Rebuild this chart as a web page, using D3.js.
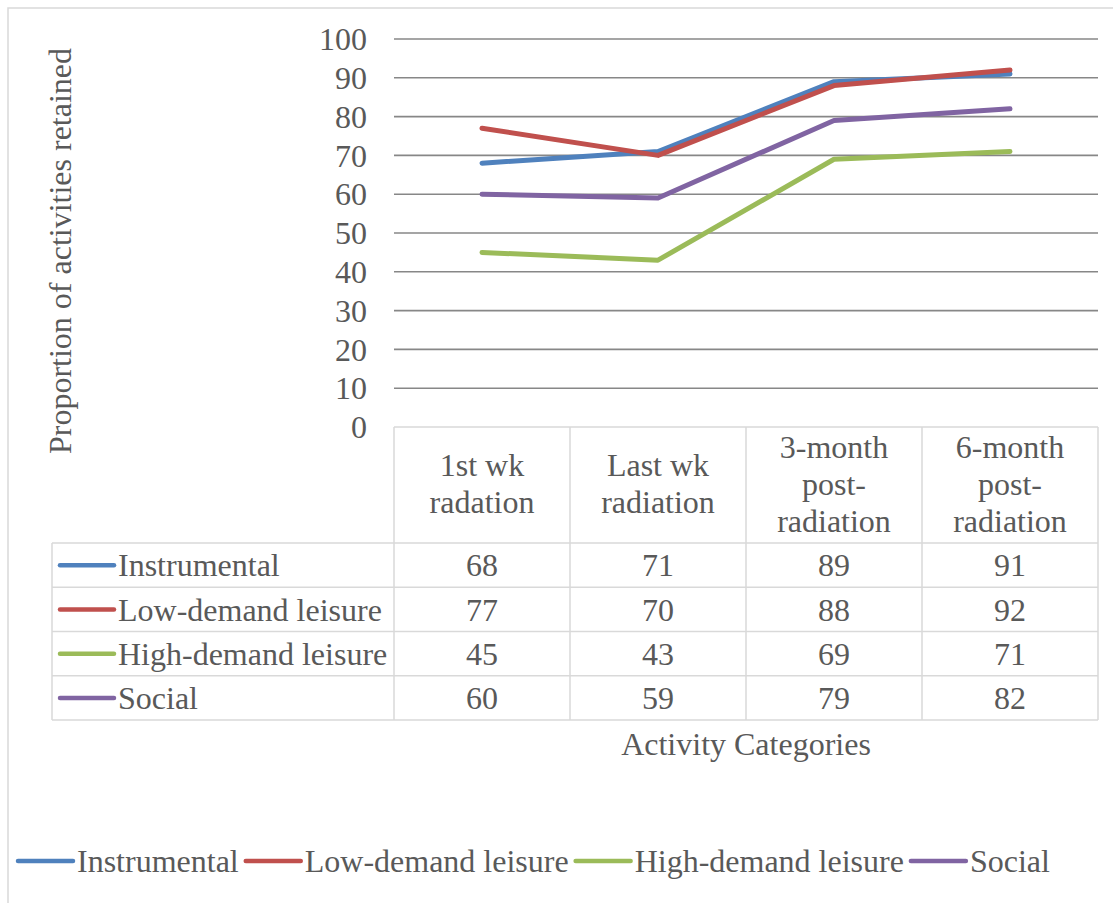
<!DOCTYPE html>
<html>
<head>
<meta charset="utf-8">
<script src="https://cdn.jsdelivr.net/npm/d3@7"></script>
<style>
  body { margin: 0; background: #fff; }
  svg text, svg tspan { font-family: "Liberation Serif", "Times New Roman", Tinos, serif !important; }
</style>
</head>
<body>
<svg id="chart" width="1113" height="903"></svg>
<script>
// chart data
const categories = [
  ["1st wk", "radation"],
  ["Last wk", "radiation"],
  ["3-month", "post-", "radiation"],
  ["6-month", "post-", "radiation"],
];
const seriesNames = ["Instrumental", "Low-demand leisure", "High-demand leisure", "Social"];
const instrumental = [68, 71, 89, 91];
const lowDemand = [77, 70, 88, 92];
const highDemand = [45, 43, 69, 71];
const social = [60, 59, 79, 82];
const yTicks = [0, 10, 20, 30, 40, 50, 60, 70, 80, 90, 100];
const colors = ["#4F81BD", "#C0504D", "#9BBB59", "#8064A2"];

const seriesValues = [instrumental, lowDemand, highDemand, social];
const series = seriesNames.map((name, i) => ({ name, values: seriesValues[i], color: colors[i] }));

const svg = d3.select("#chart");
const fontFamily = '"Liberation Serif", "Times New Roman", Tinos, serif';
const fontSize = 32;
const textColor = "#595959";
const gridColor = "#878787";
const tableColor = "#D9D9D9";

// every text element gets the same font set directly on it
function styleText(sel) {
  return sel
    .attr("font-family", fontFamily)
    .style("font-family", fontFamily, "important")
    .attr("font-size", fontSize)
    .attr("fill", textColor);
}

// plot area
const plotLeft = 394, plotRight = 1098, plotTop = 39, plotBottom = 427;
const tableLeft = 52;
const headerBottom = 543;
const rowH = 44.25;

const x = d3.scaleBand().domain(d3.range(categories.length)).range([plotLeft, plotRight]).padding(0);
const y = d3.scaleLinear().domain([0, 100]).range([plotBottom, plotTop]);

// outer chart frame
svg.append("rect")
  .attr("x", 8).attr("y", 8)
  .attr("width", 1120).attr("height", 920)
  .attr("fill", "none").attr("stroke", tableColor).attr("stroke-width", 1.5);

// gridlines (0 is the table top border)
svg.append("g")
  .selectAll("line")
  .data(yTicks.filter((d) => d > 0))
  .join("line")
  .attr("x1", plotLeft).attr("x2", plotRight)
  .attr("y1", (d) => y(d)).attr("y2", (d) => y(d))
  .attr("stroke", gridColor).attr("stroke-width", 1.6);

// tick labels
svg.append("g")
  .selectAll("text")
  .data(yTicks)
  .join("text")
  .call(styleText)
  .attr("x", 367)
  .attr("y", (d) => y(d))
  .attr("dy", "0.35em")
  .attr("text-anchor", "end")
  .text((d) => d);

// y axis title
svg.append("text")
  .call(styleText)
  .attr("transform", `translate(71, ${(plotTop + plotBottom) / 2 + 18}) rotate(-90)`)
  .attr("text-anchor", "middle")
  .text("Proportion of activities retained");

// data table grid
const tableG = svg.append("g").attr("stroke", tableColor).attr("stroke-width", 1.5);
const tableBottom = headerBottom + rowH * series.length;
tableG.append("line").attr("x1", plotLeft).attr("x2", plotRight).attr("y1", plotBottom).attr("y2", plotBottom);
tableG.selectAll("line.row")
  .data(d3.range(series.length + 1))
  .join("line")
  .attr("class", "row")
  .attr("x1", tableLeft).attr("x2", plotRight)
  .attr("y1", (i) => headerBottom + i * rowH)
  .attr("y2", (i) => headerBottom + i * rowH);
tableG.selectAll("line.col")
  .data(d3.range(categories.length + 1))
  .join("line")
  .attr("class", "col")
  .attr("x1", (i) => plotLeft + i * x.bandwidth())
  .attr("x2", (i) => plotLeft + i * x.bandwidth())
  .attr("y1", plotBottom).attr("y2", tableBottom);
tableG.append("line").attr("x1", tableLeft).attr("x2", tableLeft).attr("y1", headerBottom).attr("y2", tableBottom);

// header labels
const headerMid = (plotBottom + headerBottom) / 2 + 9.5;
svg.append("g")
  .selectAll("text")
  .data(categories)
  .join("text")
  .call(styleText)
  .attr("text-anchor", "middle")
  .each(function (lines, i) {
    d3.select(this).selectAll("tspan")
      .data(lines)
      .join("tspan")
      .attr("x", x(i) + x.bandwidth() / 2)
      .attr("y", (l, j) => headerMid + (j - (lines.length - 1) / 2) * 37)
      .text((l) => l);
  });

// table rows: legend key, name, values
const rows = svg.append("g")
  .selectAll("g")
  .data(series)
  .join("g")
  .attr("transform", (d, i) => `translate(0, ${headerBottom + i * rowH + rowH / 2})`);
rows.append("line")
  .attr("x1", 60).attr("x2", 114)
  .attr("stroke", (d) => d.color).attr("stroke-width", 4.5).attr("stroke-linecap", "round");
rows.append("text")
  .call(styleText)
  .attr("x", 118).attr("dy", "0.35em")
  .text((d) => d.name);
rows.selectAll("text.val")
  .data((d) => d.values)
  .join("text")
  .call(styleText)
  .attr("class", "val")
  .attr("x", (v, j) => x(j) + x.bandwidth() / 2)
  .attr("dy", "0.35em")
  .attr("text-anchor", "middle")
  .text((v) => v);

// x axis title
svg.append("text")
  .call(styleText)
  .attr("x", (plotLeft + plotRight) / 2).attr("y", 755)
  .attr("text-anchor", "middle")
  .text("Activity Categories");

// the lines
const line = d3.line()
  .x((v, j) => x(j) + x.bandwidth() / 2)
  .y((v) => y(v));
svg.append("g")
  .selectAll("path")
  .data(series)
  .join("path")
  .attr("d", (d) => line(d.values))
  .attr("fill", "none")
  .attr("stroke", (d) => d.color)
  .attr("stroke-width", 5)
  .attr("stroke-linejoin", "round")
  .attr("stroke-linecap", "round");

// bottom legend
const legend = svg.append("g").attr("transform", "translate(0, 861)");
let lx = 18;
series.forEach((s) => {
  legend.append("line")
    .attr("x1", lx).attr("x2", lx + 55)
    .attr("stroke", s.color).attr("stroke-width", 4.5).attr("stroke-linecap", "round");
  const t = legend.append("text")
    .call(styleText)
    .attr("x", lx + 59).attr("dy", "0.33em")
    .text(s.name);
  lx += 59 + t.node().getComputedTextLength() + 7;
});
</script>
</body>
</html>
